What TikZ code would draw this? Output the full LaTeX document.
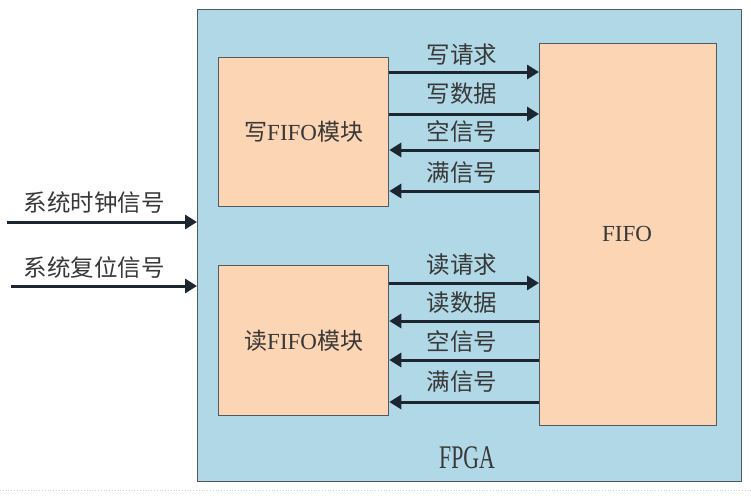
\documentclass[tikz,border=0pt]{standalone}
\usepackage{fontspec}
\setmainfont{Liberation Serif}
\newfontfamily\cjk{Noto Sans CJK SC}
\newfontfamily\condserif[FakeStretch=0.66]{Liberation Serif}
\usetikzlibrary{arrows.meta}
\definecolor{fpgablue}{HTML}{B1D8E7}
\definecolor{peach}{HTML}{FCD5B5}
\definecolor{edge}{HTML}{505A60}
\definecolor{arrowc}{HTML}{1C2630}
\definecolor{txt}{HTML}{383838}
\tikzset{
  boxstyle/.style={draw=edge, line width=1.3pt, inner sep=0pt},
  fpgabox/.style={boxstyle, fill=fpgablue, anchor=north west},
  modbox/.style={boxstyle, fill=peach, anchor=north west},
  sig/.style={draw=arrowc, line width=3pt, -{Triangle[length=12pt,width=14pt]}},
  lbl/.style={text=txt, font=\cjk\fontsize{23.5pt}{25pt}\selectfont, inner sep=0pt},
  lat/.style={text=txt, font=\fontsize{23pt}{25pt}\selectfont, inner sep=0pt}
}
\begin{document}
\begin{tikzpicture}[x=1pt,y=-1pt]
\useasboundingbox (0,0) rectangle (751,495);
\fill[white] (0,0) rectangle (751,495);
% faint dotted edge at bottom
\draw[gray!35, line width=0.8pt, dotted] (0,490) -- (751,490);

\node[fpgabox, minimum width=544pt, minimum height=472pt] (fpga) at (197,9) {};
\node[modbox, minimum width=170pt, minimum height=149pt] (w) at (218,57) {};
\node[modbox, minimum width=170pt, minimum height=150pt] (r) at (218,265) {};
\node[modbox, minimum width=177pt, minimum height=382pt] (fifo) at (539,43) {};

\node[text=txt, inner sep=0pt] (wl) at (w.center) {{\cjk\fontsize{23pt}{25pt}\selectfont 写}{\fontsize{23pt}{25pt}\selectfont FIFO}{\cjk\fontsize{23pt}{25pt}\selectfont 模块}};
\node[text=txt, inner sep=0pt] (rl) at (r.center) {{\cjk\fontsize{23pt}{25pt}\selectfont 读}{\fontsize{23pt}{25pt}\selectfont FIFO}{\cjk\fontsize{23pt}{25pt}\selectfont 模块}};
\node[lat] (fl) at (627,233.5) {FIFO};
\node[text=txt, inner sep=0pt, font=\condserif\fontsize{33pt}{35pt}\selectfont] (gl) at (467,458) {FPGA};

% write side signals
\draw[sig] (w.east |- 0,72) -- (fifo.west |- 0,72);
\draw[sig] (w.east |- 0,114) -- (fifo.west |- 0,114);
\draw[sig] (fifo.west |- 0,150) -- (w.east |- 0,150);
\draw[sig] (fifo.west |- 0,191) -- (w.east |- 0,191);
\node[lbl] (l1) at (462,55) {写请求};
\node[lbl] (l2) at (462,94) {写数据};
\node[lbl] (l3) at (462,132) {空信号};
\node[lbl] (l4) at (462,173) {满信号};

% read side signals
\draw[sig] (r.east |- 0,283) -- (fifo.west |- 0,283);
\draw[sig] (fifo.west |- 0,321) -- (r.east |- 0,321);
\draw[sig] (fifo.west |- 0,360) -- (r.east |- 0,360);
\draw[sig] (fifo.west |- 0,402) -- (r.east |- 0,402);
\node[lbl] (l5) at (462,265) {读请求};
\node[lbl] (l6) at (462,303) {读数据};
\node[lbl] (l7) at (462,342) {空信号};
\node[lbl] (l8) at (462,382) {满信号};

% external inputs
\coordinate (clkin) at (7,222);
\coordinate (rstin) at (11,286);
\draw[sig] (clkin) -- (fpga.west |- clkin);
\draw[sig] (rstin) -- (fpga.west |- rstin);
\node[lbl] (c1) at (94,203) {系统时钟信号};
\node[lbl] (c2) at (94,268) {系统复位信号};
\end{tikzpicture}
\end{document}
